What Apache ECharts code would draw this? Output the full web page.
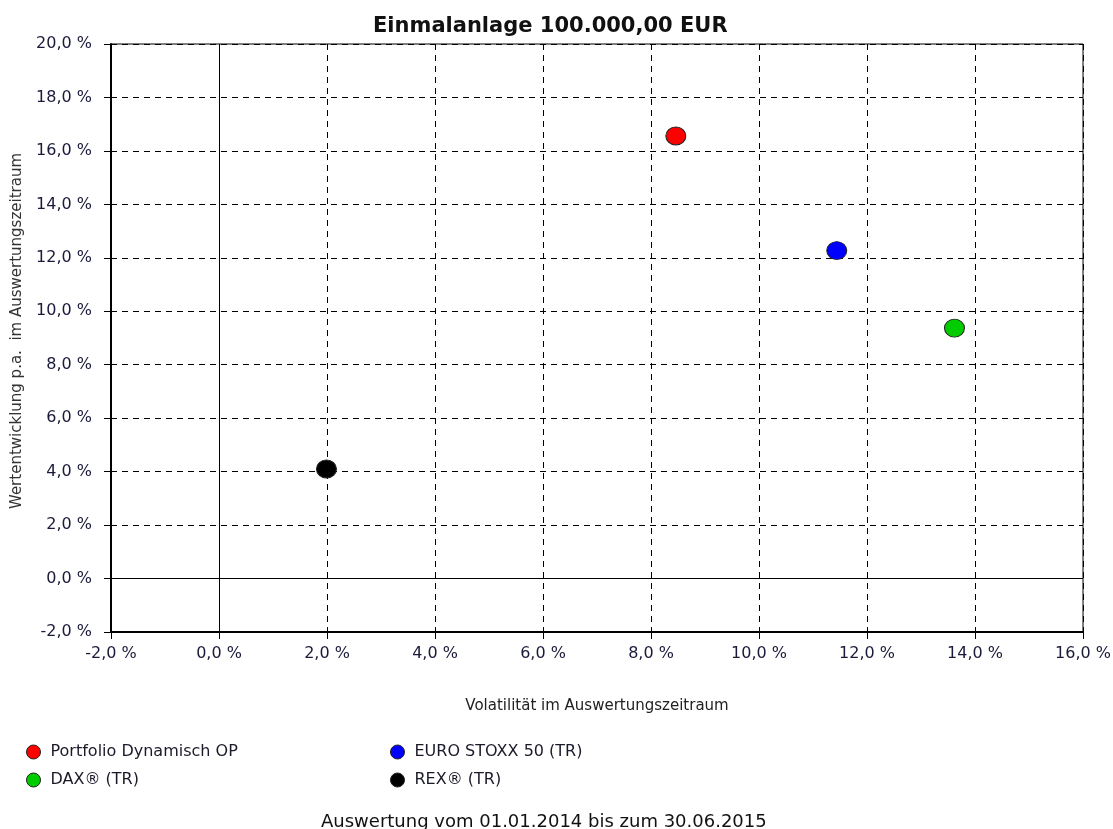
<!DOCTYPE html>
<html>
<head>
<meta charset="utf-8">
<script src="https://cdn.jsdelivr.net/npm/echarts@6/dist/echarts.min.js"></script>
<style>html,body{margin:0;padding:0;background:#fff;}#c{width:1113px;height:829px;}</style>
</head>
<body>
<div id="c"></div>
<script>
var seriesNames = ['Portfolio Dynamisch OP', 'EURO STOXX 50 (TR)', 'DAX\u00AE (TR)', 'REX\u00AE (TR)'];
var seriesColors = ['#ff0000', '#0000ff', '#00cc00', '#000000'];
var volatility = [8.46, 11.44, 13.62, 1.99];
var returnPa = [16.56, 12.27, 9.37, 4.10];
var titleText = 'Einmalanlage 100.000,00 EUR';
var xAxisName = 'Volatilit\u00E4t im Auswertungszeitraum';
var yAxisName = 'Wertentwicklung p.a.  im Auswertungszeitraum';
var footerText = 'Auswertung vom 01.01.2014 bis zum 30.06.2015';

var FONT = '"DejaVu Sans", Verdana, sans-serif';
function fmt(v){ return v.toFixed(1).replace('.', ',') + ' %'; }

var series = seriesNames.map(function(n, i){
  var s = {
    name: n, type: 'scatter',
    symbol: 'circle', symbolSize: [20, 18],
    itemStyle: { color: seriesColors[i], opacity: 1, borderColor: '#222', borderWidth: 1 },
    data: [[volatility[i], returnPa[i]]],
    z: 5
  };
  if (i === 0) {
    s.markLine = {
      silent: true, symbol: 'none', label: { show: false },
      lineStyle: { color: '#000', type: 'solid', width: 1 },
      data: [{ xAxis: 0 }, { yAxis: 0 }],
      z: 2
    };
  }
  return s;
});

var legendPos = [[21, 739], [385, 739], [21, 767], [385, 767]];
var legends = seriesNames.map(function(n, i){
  return {
    data: [{ name: n, icon: 'circle', itemStyle: { borderColor: '#222', borderWidth: 1 } }],
    left: legendPos[i][0], top: legendPos[i][1],
    itemWidth: 14, itemHeight: 14, itemGap: 6,
    textStyle: { fontFamily: FONT, fontSize: 16, color: '#1a1a2a', padding: [0, 0, 0, 5] },
    selectedMode: false
  };
});

var chart = echarts.init(document.getElementById('c'), null, { renderer: 'canvas' });
chart.setOption({
  animation: false,
  backgroundColor: '#fff',
  title: [
    { text: titleText, left: 368, top: 11,
      textStyle: { fontFamily: FONT, fontSize: 21, fontWeight: 'bold', color: '#111' } },
    { text: footerText, left: 316, top: 808,
      textStyle: { fontFamily: FONT, fontSize: 18, fontWeight: 'normal', color: '#111' } }
  ],
  legend: legends,
  grid: { left: 111, right: 30, top: 44, bottom: 197, containLabel: false, outerBoundsMode: 'none',
          show: true, borderColor: '#000', borderWidth: 1 },
  xAxis: {
    type: 'value', min: -2, max: 16, interval: 2,
    name: xAxisName, nameLocation: 'middle', nameGap: 67,
    nameTextStyle: { fontFamily: FONT, fontSize: 15, color: '#222' },
    axisLine: { show: true, onZero: false, lineStyle: { color: '#000', width: 2 } },
    axisTick: { show: true, length: 7, lineStyle: { color: '#000', width: 1 } },
    axisLabel: { margin: 14, formatter: fmt, fontFamily: FONT, fontSize: 16, color: '#1a1a3a' },
    splitLine: { show: true, lineStyle: { color: '#000', type: [6, 5], width: 1 } }
  },
  yAxis: {
    type: 'value', min: -2, max: 20, interval: 2,
    name: yAxisName, nameLocation: 'middle', nameGap: 86, nameRotate: 90,
    nameTextStyle: { fontFamily: FONT, fontSize: 15, color: '#333', padding: [0, 0, 0, 14] },
    axisLine: { show: true, onZero: false, lineStyle: { color: '#000', width: 2 } },
    axisTick: { show: true, length: 7, lineStyle: { color: '#000', width: 1 } },
    axisLabel: { margin: 19, formatter: fmt, fontFamily: FONT, fontSize: 16, color: '#1a1a3a' },
    splitLine: { show: true, lineStyle: { color: '#000', type: [6, 5], width: 1 } }
  },
  series: series
});
</script>
</body>
</html>
